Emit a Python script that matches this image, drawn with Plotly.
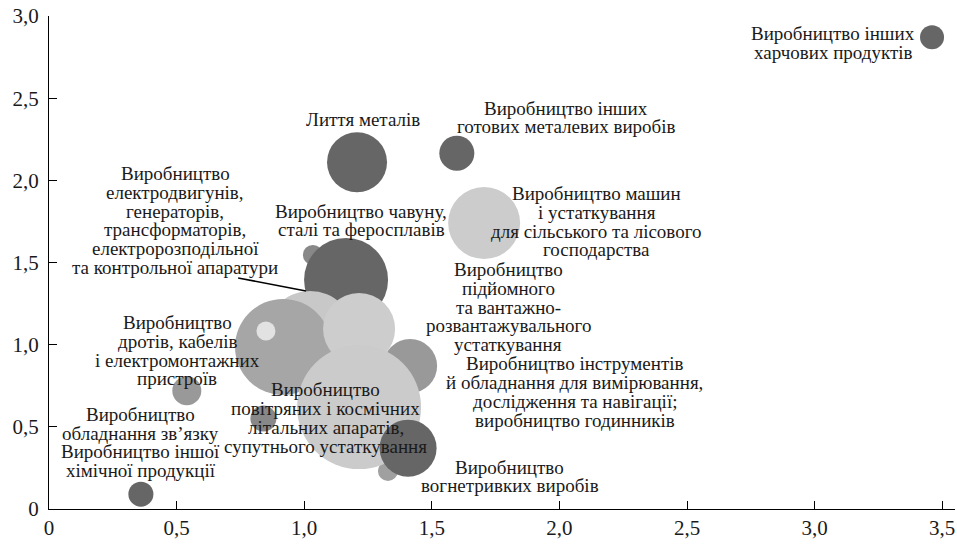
import plotly.graph_objects as go

# ---------------- data ----------------
# bubbles (listed in drawing order)
bx = [1.034, 1.164, 1.023, 0.917, 0.850, 1.215, 1.415, 1.328, 1.215, 1.407, 0.840, 0.540, 0.360, 3.460, 1.207, 1.598, 1.705]
by = [1.546, 1.394, 1.059, 0.986, 1.083, 1.096, 0.870, 0.231, 0.620, 0.370, 0.550, 0.720, 0.090, 2.870, 2.110, 2.165, 1.740]
bsize = [10, 42, 44, 48, 9.5, 36, 27, 10, 62, 28.5, 13, 14.5, 12.5, 12, 30, 17.5, 36]
bcolor = ["#888888", "#666666", "#c8c8c8", "#a6a6a6", "#e2e2e2", "#cdcdcd", "#999999", "#a0a0a0",
          "#cbcbcb", "#666666", "#888888", "#999999", "#666666", "#666666", "#666666", "#666666", "#cccccc"]

# labels
label_text = [
    ["Виробництво інших", "харчових продуктів"],
    ["Лиття металів"],
    ["Виробництво інших", "готових металевих виробів"],
    ["Виробництво машин", "і устаткування", "для сільського та лісового", "господарства"],
    ["Виробництво чавуну,", "сталі та феросплавів"],
    ["Виробництво", "електродвигунів,", "генераторів,", "трансформаторів,", "електророзподільної", "та контрольної апаратури"],
    ["Виробництво", "дротів, кабелів", "і електромонтажних", "пристроїв"],
    ["Виробництво", "обладнання зв’язку", "Виробництво іншої", "хімічної продукції"],
    ["Виробництво", "повітряних і космічних", "літальних апаратів,", "супутнього устаткування"],
    ["Виробництво", "підйомного", "та вантажно-", "розвантажувального", "устаткування"],
    ["Виробництво інструментів", "й обладнання для вимірювання,", "дослідження та навігації;", "виробництво годинників"],
    ["Виробництво", "вогнетривких виробів"],
]
label_x = [3.072, 1.230, 2.026, 2.147, 1.223, 0.494, 0.502, 0.360, 1.085, 1.799, 2.061, 1.806]
label_y = [2.836, 2.368, 2.383, 1.747, 1.755, 1.755, 0.962, 0.405, 0.554, 1.229, 0.712, 0.198]

x_ticks = [0, 0.5, 1.0, 1.5, 2.0, 2.5, 3.0, 3.5]
x_ticktext = ["0", "0,5", "1,0", "1,5", "2,0", "2,5", "3,0", "3,5"]
y_ticks = [0, 0.5, 1.0, 1.5, 2.0, 2.5, 3.0]
y_ticktext = ["0", "0,5", "1,0", "1,5", "2,0", "2,5", "3,0"]

# leader line endpoints (data space)
leader_x = [0.741, 1.007]
leader_y = [1.406, 1.327]

# ---------------- figure ----------------
FONT = "Liberation Serif"
LINE = 18.7

fig = go.Figure()
fig.add_trace(go.Scatter(
    x=bx, y=by, mode="markers",
    marker=dict(size=bsize, sizemode="diameter", sizeref=0.5, color=bcolor, opacity=1,
                line=dict(width=0)),
    hoverinfo="skip", showlegend=False,
))

annotations = []
for lines, lx, ly in zip(label_text, label_x, label_y):
    n = len(lines)
    for i, t in enumerate(lines):
        annotations.append(dict(
            x=lx, y=ly, xref="x", yref="y", text=t, showarrow=False,
            xanchor="center", yanchor="middle",
            yshift=((n - 1) / 2 - i) * LINE,
            font=dict(family=FONT, size=19, color="#1a1a1a"),
        ))

fig.add_shape(type="line", x0=leader_x[0], y0=leader_y[0], x1=leader_x[1], y1=leader_y[1],
              xref="x", yref="y", line=dict(color="black", width=1.5), layer="above")

fig.update_layout(
    width=957, height=545,
    margin=dict(l=49, r=2, t=16, b=36, autoexpand=False),
    paper_bgcolor="white", plot_bgcolor="white",
    annotations=annotations,
    font=dict(family=FONT, size=21, color="black"),
    xaxis=dict(range=[0, 3.55], tickvals=x_ticks, ticktext=x_ticktext, showgrid=False, zeroline=False,
               showline=True, linecolor="black", linewidth=1.2, ticks="inside", ticklen=8,
               tickcolor="black", tickfont=dict(family=FONT, size=21, color="#1a1a1a"),
               automargin=False, fixedrange=True),
    yaxis=dict(range=[0, 3.0], tickvals=y_ticks, ticktext=y_ticktext, showgrid=False, zeroline=False,
               showline=True, linecolor="black", linewidth=1.2, ticks="inside", ticklen=8,
               tickcolor="black", tickfont=dict(family=FONT, size=21, color="#1a1a1a"),
               ticklabelstandoff=5, automargin=False, fixedrange=True),
)

fig.write_html("out.html", config={"displayModeBar": False},
               post_script="document.body.style.margin='0';")
